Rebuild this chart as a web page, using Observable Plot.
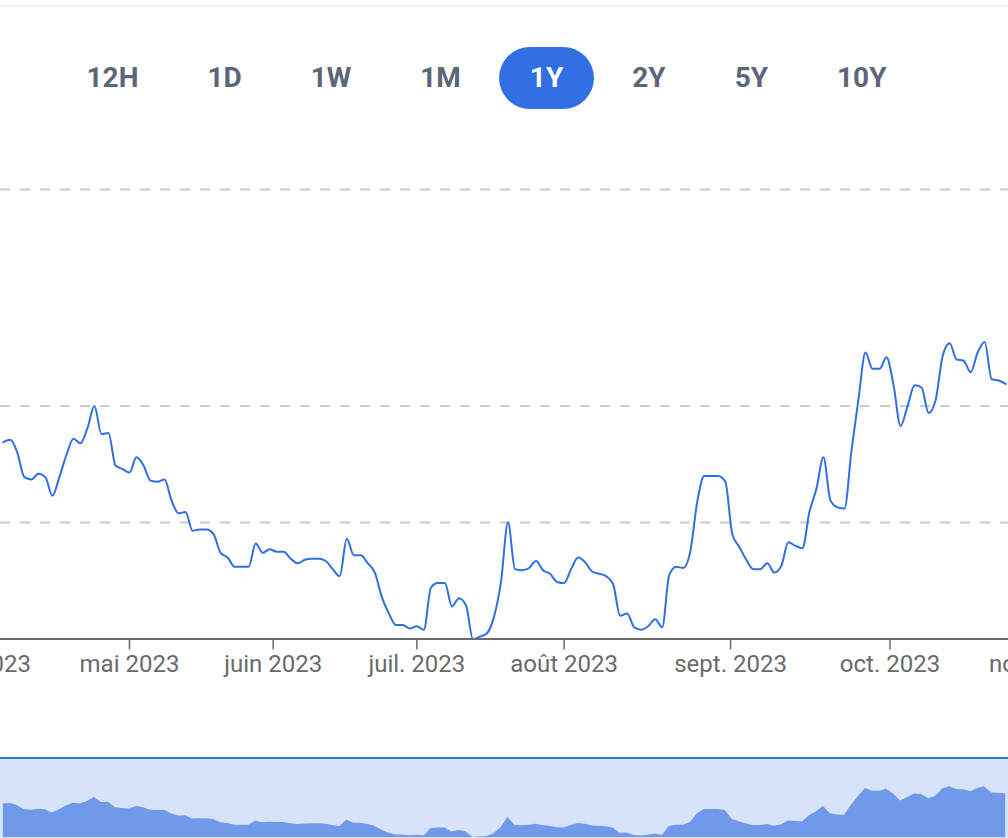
<!DOCTYPE html>
<html>
<head>
<meta charset="utf-8">
<script src="https://cdn.jsdelivr.net/npm/d3@7"></script>
<script src="https://cdn.jsdelivr.net/npm/@observablehq/plot@0.6"></script>
<style>
  html, body { margin: 0; padding: 0; background: #fff; }
  body { width: 1008px; height: 838px; position: relative; overflow: hidden; font-family: Roboto, "Noto Sans", sans-serif; }
  #topline { position: absolute; left: 0; top: 5px; width: 1008px; height: 2px; background: #eef2f6; }
  #ranges { position: absolute; left: 56px; top: 47px; display: flex; gap: 8px; }
  #ranges div { height: 62px; padding: 0 30.5px; border-radius: 31px; font: 700 28px/62px Roboto, sans-serif; color: #5c6579; text-align: center; }
  #ranges div.active { background: #3170e3; color: #fff; }
  #main { position: absolute; left: 0; top: 150px; }
  #nav { position: absolute; left: 0; top: 757px; width: 1008px; height: 79px; border-top: 2px solid #3271e2; background: #d6e3f9; }
  svg { overflow: visible; }
</style>
</head>
<body>
<div id="topline"></div>
<div id="ranges"></div>
<div id="main"></div>
<div id="nav"></div>
<script>
// Range selector labels
const ranges = ["12H", "1D", "1W", "1M", "1Y", "2Y", "5Y", "10Y"];
const activeRange = "1Y";

// Series: one value per trading session (index = session number)
const values = [
  169, 171, 160, 139, 137, 142, 139, 123, 139, 158,
  172, 168, 181, 200, 176, 177, 149, 146, 143, 156,
  149, 136, 135, 137, 119, 108, 109, 93, 94, 94,
  90, 74, 70, 62, 62, 62, 82, 74, 77, 75,
  75, 69, 65, 68, 69, 69, 67, 60, 54, 86,
  72, 72, 65, 57, 36, 22, 12, 12, 9, 11,
  8, 44, 48, 48, 28, 35, 29, 0, 2, 5,
  19, 49, 100, 60, 59, 61, 67, 59, 56, 49,
  48, 60, 70, 66, 58, 56, 54, 47, 20, 22,
  10, 8, 11, 17, 10, 55, 62, 61, 75, 118,
  140, 140, 140, 135, 90, 79, 68, 60, 60, 65,
  57, 63, 83, 80, 78, 109, 129, 156, 119, 113,
  112, 162, 206, 246, 232, 232, 242, 218, 183, 200,
  218, 216, 194, 205, 243, 254, 240, 239, 229, 246,
  255, 223, 222, 219
];

// Month tick positions (session index) and labels
const tickIndex = [-3, 18, 38.5, 59, 80, 103.75, 126.5, 148];
const tickLabels = ["avr. 2023", "mai 2023", "juin 2023", "juil. 2023", "août 2023", "sept. 2023", "oct. 2023", "nov. 2023"];

// Horizontal grid values
const gridValues = [100, 200, 386];
const yDomain = [0, 386];
const xDomain = [-0.4, 143.4];

// Buttons
const rangesEl = document.getElementById("ranges");
for (const r of ranges) {
  const b = document.createElement("div");
  b.textContent = r;
  if (r === activeRange) b.className = "active";
  rangesEl.appendChild(b);
}

const labelOf = new Map(tickIndex.map((t, k) => [t, tickLabels[k]]));

const main = Plot.plot({
  width: 1008,
  height: 550,
  marginLeft: 0,
  marginRight: 0,
  marginTop: 39,
  marginBottom: 61.5,
  x: { domain: xDomain, axis: null },
  y: { domain: yDomain, axis: null },
  style: { fontFamily: "Roboto, sans-serif", background: "transparent", overflow: "visible" },
  marks: [
    Plot.ruleY(gridValues, { stroke: "#cccccc", strokeWidth: 2, strokeDasharray: "10,10" }),
    Plot.lineY(values, { stroke: "#2f6fe2", strokeWidth: 2, curve: "monotone-x" }),
    Plot.ruleY([0], { stroke: "#6b6b6b", strokeWidth: 2 }),
    Plot.axisX(tickIndex, {
      anchor: "bottom",
      tickSize: 11,
      tickPadding: 5,
      tickFormat: (t) => labelOf.get(t),
      fontSize: 24,
      color: "#6a6a6a",
      strokeWidth: 1.5
    })
  ]
});
document.getElementById("main").appendChild(main);

const nav = Plot.plot({
  width: 1008,
  height: 79,
  marginLeft: 0,
  marginRight: 0,
  marginTop: 1,
  marginBottom: 1,
  x: { domain: xDomain, axis: null },
  y: { domain: yDomain, axis: null },
  style: { background: "transparent" },
  marks: [
    Plot.areaY(values, { fill: "#7199e9", curve: "linear" })
  ]
});
document.getElementById("nav").appendChild(nav);
</script>
</body>
</html>
